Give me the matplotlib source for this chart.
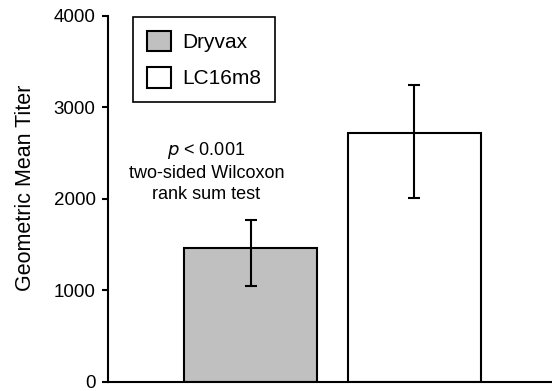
import matplotlib.pyplot as plt
from matplotlib.patches import Patch

plt.rcParams['font.family'] = ['Liberation Sans', 'DejaVu Sans']

groups = ['Dryvax', 'LC16m8']
gmt = [1456, 2712]
err_low = [1047, 2009]
err_high = [1765, 3244]
colors = ['#c0c0c0', 'white']

fig = plt.figure(figsize=(5.52, 3.91), dpi=100)
ax = fig.add_axes([0.196, 0.024, 0.804, 0.936])

x = [0, 1]
yerr = [[g - lo for g, lo in zip(gmt, err_low)],
        [hi - g for g, hi in zip(gmt, err_high)]]
ax.bar(x, gmt, width=0.81, color=colors, edgecolor='black', linewidth=1.5)
ax.errorbar(x, gmt, yerr=yerr, fmt='none', ecolor='black', elinewidth=1.5,
            capsize=4, capthick=1.5)

ax.set_xlim(-0.87, 1.84)
ax.set_ylim(0, 4000)
ax.set_yticks([0, 1000, 2000, 3000, 4000])
ax.set_xticks([])
ax.tick_params(axis='y', labelsize=13.5, length=4.5, width=1.5, pad=4.5)
for s in ['top', 'right']:
    ax.spines[s].set_visible(False)
for s in ['left', 'bottom']:
    ax.spines[s].set_linewidth(1.5)

ax.set_ylabel('Geometric Mean Titer', fontsize=15.5)
ax.yaxis.set_label_coords(-0.163, 0.53)

ax.text(-0.27, 2640, '$p$ < 0.001\ntwo-sided Wilcoxon\nrank sum test',
        ha='center', va='top', fontsize=13, linespacing=1.3)

handles = [Patch(facecolor=c, edgecolor='black', linewidth=1.5) for c in colors]
leg = ax.legend(handles, groups, loc='upper left', bbox_to_anchor=(0.056, 0.996),
                borderaxespad=0, fontsize=15, handlelength=1.15, handleheight=1.15,
                handletextpad=0.55, labelspacing=0.72, borderpad=0.65,
                fancybox=False, edgecolor='black', framealpha=1)
leg.get_frame().set_linewidth(1.2)

fig.savefig('out.png', dpi=100)
